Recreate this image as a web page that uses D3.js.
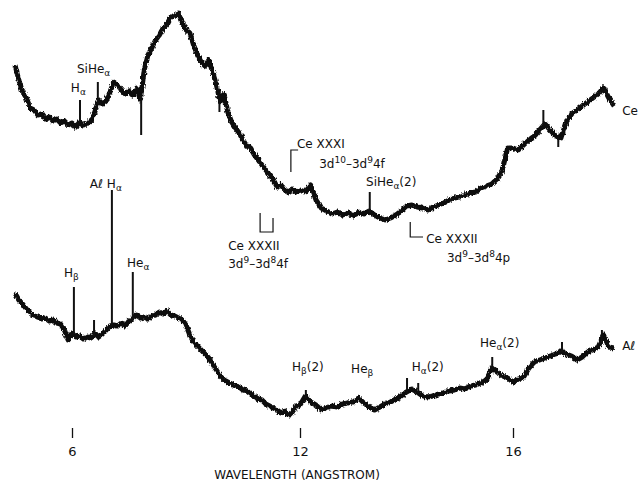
<!DOCTYPE html>
<html>
<head>
<meta charset="utf-8">
<script src="https://d3js.org/d3.v7.min.js"></script>
<style>
  html, body { margin: 0; padding: 0; background: #fff; }
  svg text { font-family: "DejaVu Sans", sans-serif; fill: #111; }
</style>
</head>
<body>
<div id="chart"></div>
<script>
// spectra sampled every 0.1 Å from 4.5 Å to 17.9 Å (relative intensity, arbitrary units)
const lambdaStart = 4.5;
const lambdaStep = 0.1;

const ceSpectrum = [
  375, 360, 348, 342, 332,
  330, 325, 326, 321, 323, 319, 321, 317, 319, 315,
  317, 313, 318, 314, 317, 319, 328, 340, 336, 339,
  348, 358, 355, 350, 346, 349, 344, 352, 340, 370,
  385, 392, 400, 405, 412, 416, 423, 424, 426, 418,
  410, 407, 395, 385, 378, 374, 380, 368, 355, 338,
  346, 328, 318, 312, 307, 300, 294, 292, 285, 280,
  275, 270, 265, 260, 253, 255, 250, 248, 251, 248,
  250, 248, 255, 240, 232, 229, 226, 228, 225, 227,
  224, 228, 226, 229, 225, 222, 220, 222, 225, 229,
  234, 235, 233, 232, 230, 233, 235, 237, 240, 242,
  243, 245, 247, 248, 252, 254, 256, 261, 270, 292,
  292, 290, 295, 300, 304, 310, 316, 310, 304, 302,
  318, 326, 330, 334, 338, 342, 346, 352, 342, 334
];

const alSpectrum = [
  147, 140, 136, 131, 127,
  124, 123, 121, 122, 119, 120, 117, 116, 110, 100,
  107, 103, 104, 101, 103, 102, 107, 103, 106, 110,
  114, 115, 114, 117, 114, 119, 122, 125, 122, 123,
  121, 124, 125, 128, 126, 129, 125, 124, 122, 120,
  115, 105, 98, 94, 90, 86, 82, 76, 70, 64,
  60, 58, 56, 54, 53, 50, 49, 46, 44, 41,
  40, 36, 34, 32, 30, 27, 29, 25, 28, 34,
  35, 44, 38, 35, 30, 32, 34, 33, 36, 37,
  38, 42, 37, 33, 30, 33, 36, 38, 41, 44,
  48, 51, 48, 44, 43, 44, 46, 47, 49, 50,
  52, 51, 54, 55, 57, 60, 72, 68, 64, 62,
  58, 61, 63, 72, 78, 80, 82, 84, 86, 89,
  86, 84, 80, 83, 88, 90, 93, 105, 93, 92
];

// narrow lines: [wavelength, continuum, line tip]
const ceLines = [
  [6.21, 318, 340], [6.68, 336, 358], [7.82, 345, 305], [9.88, 340, 328],
  [13.31, 228, 248], [16.57, 316, 330], [16.85, 304, 293]
];
const alLines = [
  [6.05, 106, 153], [6.58, 104, 120], [7.05, 114, 250], [7.6, 121, 168],
  [12.11, 42, 50], [14.01, 46, 62], [14.22, 47, 57], [15.61, 70, 83],
  [16.92, 88, 98], [17.67, 96, 110]
];

// line identifications: anchor wavelength, anchor intensity, text pieces
const ceLabels = [
  {lam: 6.13, val: 367, text: [["SiHe"], ["α", "sub"]]},
  {lam: 5.97, val: 348, text: [["H"], ["α", "sub"]]},
  {lam: 11.92, val: 292, text: [["Ce XXXI"]]},
  {lam: 12.36, val: 272, text: [["3d"], ["10", "sup"], ["–3d"], ["9", "sup"], ["4f"]]},
  {lam: 13.24, val: 254, text: [["SiHe"], ["α", "sub"], ["(2)"]]},
  {lam: 10.11, val: 190, text: [["Ce XXXII"]]},
  {lam: 10.11, val: 172, text: [["3d"], ["9", "sup"], ["–3d"], ["8", "sup"], ["4f"]]},
  {lam: 14.37, val: 197, text: [["Ce XXXII"]]},
  {lam: 14.76, val: 178, text: [["3d"], ["9", "sup"], ["–3d"], ["8", "sup"], ["4p"]]},
  {lam: 18.05, val: 325, text: [["Ce"]]}
];
const alLabels = [
  {lam: 5.79, val: 163, text: [["H"], ["β", "sub"]]},
  {lam: 6.47, val: 252, text: [["Aℓ H"], ["α", "sub"]]},
  {lam: 7.45, val: 173, text: [["He"], ["α", "sub"]]},
  {lam: 11.79, val: 69, text: [["H"], ["β", "sub"], ["(2)"]]},
  {lam: 12.96, val: 67, text: [["He"], ["β", "sub"]]},
  {lam: 14.1, val: 69, text: [["H"], ["α", "sub"], ["(2)"]]},
  {lam: 15.38, val: 93, text: [["He"], ["α", "sub"], ["(2)"]]},
  {lam: 18.05, val: 90, text: [["Aℓ"]]}
];

// transition brackets
const brackets = [
  [[11.76, 268], [11.76, 290], [11.95, 290]],
  [[10.95, 227], [10.95, 208], [11.29, 208], [11.29, 222]],
  [[14.07, 218], [14.07, 203], [14.31, 203]]
];

const tickValues = [6, 12, 16];
const axisTitle = "WAVELENGTH (ANGSTROM)";

const width = 640, height = 481;

const svg = d3.select("#chart").append("svg")
  .attr("width", width)
  .attr("height", height);

// roughen the trace edges like a scanned chart recording
const filter = svg.append("defs").append("filter")
  .attr("id", "rough")
  .attr("x", "-5%").attr("y", "-5%")
  .attr("width", "110%").attr("height", "110%");
filter.append("feTurbulence")
  .attr("type", "fractalNoise")
  .attr("baseFrequency", "0.7 0.3")
  .attr("numOctaves", 2)
  .attr("seed", 3)
  .attr("result", "noise");
filter.append("feDisplacementMap")
  .attr("in", "SourceGraphic")
  .attr("in2", "noise")
  .attr("scale", 4)
  .attr("xChannelSelector", "R")
  .attr("yChannelSelector", "G");

// the dispersion is not linear in wavelength
const x = d3.scaleLinear().domain(tickValues).range([72, 300, 513]);
const y = d3.scaleLinear().domain([0, 440]).range([440, 0]);

const lam = i => (lambdaStart * 10 + i * lambdaStep * 10) / 10;

const line = d3.line()
  .x((d, i) => x(lam(i)))
  .y(d => y(d));

const traces = svg.append("g").attr("filter", "url(#rough)");

[ceSpectrum, alSpectrum].forEach(s => {
  traces.append("path")
    .datum(s)
    .attr("d", line)
    .attr("fill", "none")
    .attr("stroke", "#111")
    .attr("stroke-width", 5)
    .attr("stroke-linejoin", "round");
});

svg.append("g")
  .selectAll("line")
  .data(ceLines.concat(alLines))
  .join("line")
  .attr("x1", d => x(d[0]))
  .attr("x2", d => x(d[0]))
  .attr("y1", d => y(d[1]))
  .attr("y2", d => y(d[2]))
  .attr("stroke", "#111")
  .attr("stroke-width", 2);

// brackets
const bracketLine = d3.line().x(d => x(d[0])).y(d => y(d[1]));
svg.append("g")
  .selectAll("path")
  .data(brackets)
  .join("path")
  .attr("d", bracketLine)
  .attr("fill", "none")
  .attr("stroke", "#111")
  .attr("stroke-width", 1.2);

// labels with sub/superscripts
function addLabel(g, d) {
  const t = g.append("text")
    .attr("x", x(d.lam))
    .attr("y", y(d.val))
    .attr("font-size", 12);
  let shift = 0;
  d.text.forEach(p => {
    const target = p[1] === "sub" ? 3 : p[1] === "sup" ? -5 : 0;
    t.append("tspan")
      .attr("dy", target - shift)
      .attr("font-size", p[1] ? 9 : 12)
      .text(p[0]);
    shift = target;
  });
}
const labelG = svg.append("g");
ceLabels.concat(alLabels).forEach(d => addLabel(labelG, d));

// wavelength axis
const axis = svg.append("g")
  .attr("transform", "translate(0,428)")
  .call(d3.axisBottom(x).tickValues(tickValues).tickSize(10).tickPadding(9));
axis.select(".domain").remove();
axis.selectAll(".tick line").attr("stroke", "#111").attr("stroke-width", 1.3);
axis.selectAll(".tick text")
  .attr("font-size", 13)
  .attr("font-family", "DejaVu Sans, sans-serif")
  .attr("fill", "#111");

svg.append("text")
  .attr("x", 297)
  .attr("y", 479)
  .attr("text-anchor", "middle")
  .attr("font-size", 12)
  .text(axisTitle);
</script>
</body>
</html>
